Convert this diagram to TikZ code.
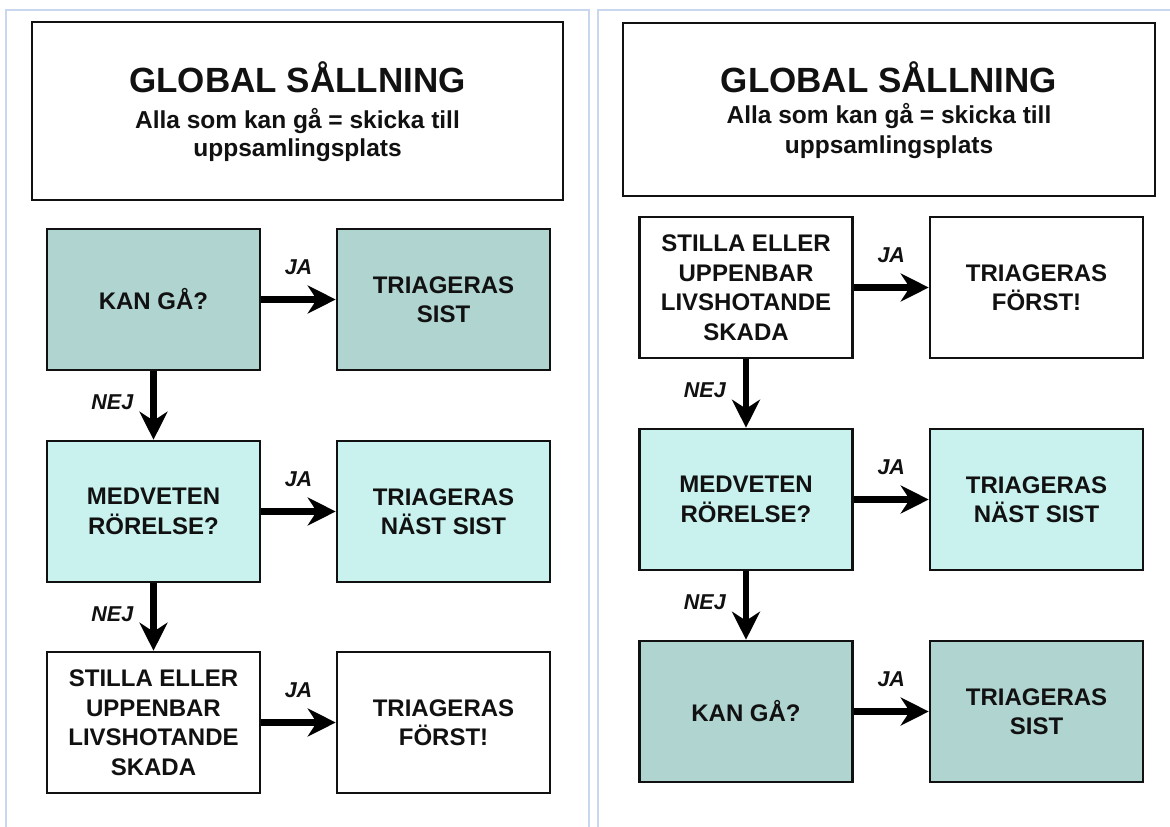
\documentclass[tikz,border=0pt]{standalone}
\usepackage{fontspec}
\setmainfont{Liberation Sans}
\usetikzlibrary{arrows.meta}

\definecolor{walkfill}{HTML}{B0D4D0}
\definecolor{movefill}{HTML}{C9F2EE}
\definecolor{panelline}{HTML}{C8D6EE}
\definecolor{ink}{HTML}{111111}

\tikzset{
  box/.style={draw=ink, line width=2.6pt, minimum width=213pt, minimum height=141pt,
    inner sep=0pt, align=center, text=ink,
    font=\bfseries\fontsize{24}{29.5}\selectfont},
  walkbox/.style={box, fill=walkfill},
  movebox/.style={box, fill=movefill},
  plainbox/.style={box, fill=white},
  headbox/.style={draw=ink, line width=2.6pt, inner sep=0pt, fill=white},
  headtext/.style={anchor=base, inner sep=0pt, text=ink,
    font=\bfseries\fontsize{35}{40}\selectfont},
  subtext/.style={anchor=base, inner sep=0pt, text=ink,
    font=\bfseries\fontsize{24.5}{29}\selectfont},
  arr/.style={draw=black, line width=6.5pt,
    -{Stealth[length=28pt,width=28pt,inset=9pt]}},
  yes/.style={font=\bfseries\itshape\fontsize{21.5}{24}\selectfont, text=ink,
    inner sep=0pt, above=22pt},
  no/.style={font=\bfseries\itshape\fontsize{21.5}{24}\selectfont, text=ink,
    inner sep=0pt, left=17pt, yshift=3pt},
  panel/.style={draw=panelline, line width=1.8pt},
}

\begin{document}
\begin{tikzpicture}[x=1pt, y=-1pt]
  \useasboundingbox (0,0) rectangle (1170,827);

  % page frames
  \draw[panel] (6,830) -- (6,10) -- (589,10) -- (589,830);
  \draw[panel] (598,830) -- (598,10) -- (1172,10);

  % ---------- left sheet: walking first ----------
  \node[headbox, minimum width=531pt, minimum height=178pt] (headL) at (297.5,111) {};
  \node[headtext] (ttlL) at (297.5,92.5) {GLOBAL SÅLLNING};
  \node[subtext] (subLa) at (297.5,128) {Alla som kan gå = skicka till};
  \node[subtext] (subLb) at (297.5,156) {uppsamlingsplats};

  \node[walkbox] (kanL) at (153.5,299.5) {KAN GÅ?};
  \node[walkbox] (sistL) at (443.5,299.5) {TRIAGERAS\\SIST};
  \node[movebox] (medL) at (153.5,511.5) {MEDVETEN\\RÖRELSE?};
  \node[movebox] (nastL) at (443.5,511.5) {TRIAGERAS\\NÄST SIST};
  \node[plainbox] (stiL) at (153.5,722.5) {STILLA ELLER\\UPPENBAR\\LIVSHOTANDE\\SKADA};
  \node[plainbox] (forL) at (443.5,722.5) {TRIAGERAS\\FÖRST!};

  \draw[arr] (kanL.east) -- node[yes] {JA} (sistL.west);
  \draw[arr] (medL.east) -- node[yes] {JA} (nastL.west);
  \draw[arr] (stiL.east) -- node[yes] {JA} (forL.west);
  \draw[arr] (kanL.south) -- node[no] {NEJ} (medL.north);
  \draw[arr] (medL.south) -- node[no] {NEJ} (stiL.north);

  % ---------- right sheet: life threats first ----------
  \node[headbox, minimum width=532pt, minimum height=173pt] (headR) at (889,109.5) {};
  \node[headtext] (ttlR) at (889,92.5) {GLOBAL SÅLLNING};
  \node[subtext] (subRa) at (889,123) {Alla som kan gå = skicka till};
  \node[subtext] (subRb) at (889,153) {uppsamlingsplats};

  \node[plainbox] (stiR) at (746,287.5) {STILLA ELLER\\UPPENBAR\\LIVSHOTANDE\\SKADA};
  \node[plainbox] (forR) at (1036.5,287.5) {TRIAGERAS\\FÖRST!};
  \node[movebox] (medR) at (746,499.5) {MEDVETEN\\RÖRELSE?};
  \node[movebox] (nastR) at (1036.5,499.5) {TRIAGERAS\\NÄST SIST};
  \node[walkbox] (kanR) at (746,711.5) {KAN GÅ?};
  \node[walkbox] (sistR) at (1036.5,711.5) {TRIAGERAS\\SIST};

  \draw[arr] (stiR.east) -- node[yes] {JA} (forR.west);
  \draw[arr] (medR.east) -- node[yes] {JA} (nastR.west);
  \draw[arr] (kanR.east) -- node[yes] {JA} (sistR.west);
  \draw[arr] (stiR.south) -- node[no] {NEJ} (medR.north);
  \draw[arr] (medR.south) -- node[no] {NEJ} (kanR.north);
\end{tikzpicture}
\end{document}
